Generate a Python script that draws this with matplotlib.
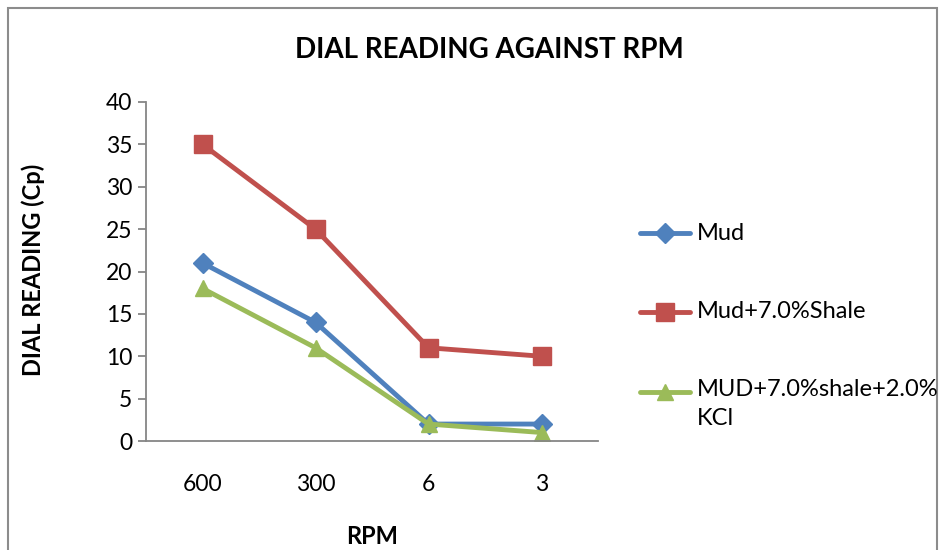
import matplotlib
matplotlib.use("Agg")
import matplotlib.pyplot as plt
from matplotlib.lines import Line2D
from matplotlib.patches import Rectangle

# Rotational speed categories and dial readings
rpm_labels = ["600", "300", "6", "3"]
mud = [21, 14, 2, 2]
mud_shale = [35, 25, 11, 10]
mud_shale_kcl = [18, 11, 2, 1]

series_names = ["Mud", "Mud+7.0%Shale", "MUD+7.0%shale+2.0%\nKCl"]
series_values = [mud, mud_shale, mud_shale_kcl]
colors = ["#4F81BD", "#C0504D", "#9BBB59"]
markers = ["D", "s", "^"]
marker_sizes = [10, 13, 12]

plt.rcParams["font.family"] = ["Lato", "DejaVu Sans"]

W, H = 944, 550
fig = plt.figure(figsize=(W / 100, H / 100), dpi=100)

def fx(px):
    return px / W

def fy(py):
    return 1 - py / H

# Chart frame
fig.patches.append(Rectangle((fx(8), fy(560)), fx(929), fy(8) - fy(560),
                             transform=fig.transFigure, fill=False,
                             edgecolor="#8c8c8c", linewidth=1.5))

ax = fig.add_axes([fx(146), fy(441), fx(452), fy(102) - fy(441)])
x = list(range(len(rpm_labels)))
for vals, c, m, ms in zip(series_values, colors, markers, marker_sizes):
    ax.plot(x, vals, color=c, linewidth=3.5, marker=m, markersize=ms,
            markerfacecolor=c, markeredgecolor=c, solid_capstyle="round",
            solid_joinstyle="round")

ax.set_xlim(-0.5, len(rpm_labels) - 0.5)
ax.set_ylim(0, 40)
ax.set_yticks(range(0, 41, 5))
ax.set_xticks(x)
ax.set_xticklabels(rpm_labels)
ax.tick_params(axis="both", labelsize=16.5, colors="#868686", labelcolor="black")
ax.tick_params(axis="y", length=6, width=1.3, pad=4)
ax.tick_params(axis="x", length=0, pad=24)
for s in ["top", "right"]:
    ax.spines[s].set_visible(False)
for s in ["left", "bottom"]:
    ax.spines[s].set_color("#868686")
    ax.spines[s].set_linewidth(1.3)

fig.text(fx(489), fy(50), "DIAL READING AGAINST RPM", ha="center", va="center",
         fontsize=20, fontweight="bold")
fig.text(fx(33), fy(270), "DIAL READING (Cp)", ha="center", va="center",
         rotation=90, fontsize=17, fontweight="bold")
fig.text(fx(372), fy(537), "RPM", ha="center", va="center",
         fontsize=17, fontweight="bold")

# Legend entries
legend_y = [233, 312, 392]
for name, c, m, ms, ly in zip(series_names, colors, markers, marker_sizes, legend_y):
    fig.lines.append(Line2D([fx(640), fx(690)], [fy(ly), fy(ly)],
                            transform=fig.transFigure, color=c, linewidth=3.5,
                            solid_capstyle="round"))
    fig.lines.append(Line2D([fx(665)], [fy(ly)], transform=fig.transFigure,
                            marker=m, markersize=ms, color=c, linestyle="none"))
    if "\n" in name:
        fig.text(fx(697), fy(ly - 13), name, ha="left", va="top",
                 fontsize=17, linespacing=1.45)
    else:
        fig.text(fx(697), fy(ly), name, ha="left", va="center", fontsize=17)

fig.savefig("out.png", dpi=100)
